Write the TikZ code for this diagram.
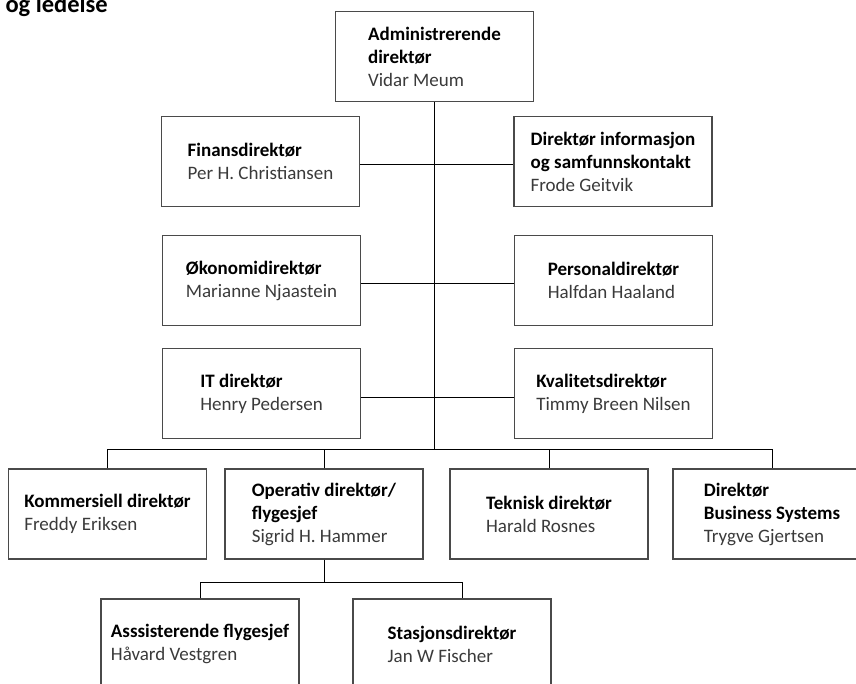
\documentclass[tikz,border=0pt]{standalone}
\usepackage{fontspec}
\setmainfont{Carlito}
\definecolor{boxgray}{HTML}{4A4A4A}
\definecolor{namegray}{HTML}{3A3A3A}
\tikzset{
  orgbox/.style={draw=boxgray, line width=1.2pt, minimum width=198pt, minimum height=90pt,
    align=left, inner sep=0pt, font=\fontsize{19}{23}\selectfont},
  conn/.style={draw=black, line width=1pt},
}
\newcommand{\ttl}[1]{\textbf{#1}}
\newcommand{\nm}[1]{\textcolor{namegray}{#1}}
\begin{document}
\begin{tikzpicture}[x=1pt,y=-1pt]
\useasboundingbox (0,0) rectangle (856,684);
\node[anchor=base west, font=\bfseries\fontsize{24.5}{28}\selectfont] (title) at (2,13) {og ledelse};

\node[orgbox] (top) at (434.5,56.5) {\ttl{Administrerende}\\\ttl{direktør}\\\nm{Vidar Meum}};

\node[orgbox] (fin) at (260.5,161.5) {\ttl{Finansdirektør}\\\nm{Per H. Christiansen}};
\node[orgbox] (info) at (613,161.5) {\ttl{Direktør informasjon}\\\ttl{og samfunnskontakt}\\\nm{Frode Geitvik}};
\node[orgbox] (oko) at (261.5,280.5) {\ttl{Økonomidirektør}\\\nm{Marianne Njaastein}};
\node[orgbox] (pers) at (613.5,280.5) {\ttl{Personaldirektør}\\\nm{Halfdan Haaland}};
\node[orgbox] (it) at (261.5,393.5) {\ttl{IT direktør}\\\nm{Henry Pedersen}};
\node[orgbox] (kval) at (613.5,393.5) {\ttl{Kvalitetsdirektør}\\\nm{Timmy Breen Nilsen}};

\node[orgbox] (kom) at (107.5,514) {\ttl{Kommersiell direktør}\\\nm{Freddy Eriksen}};
\node[orgbox] (op) at (324,514) {\ttl{Operativ direktør/}\\\ttl{flygesjef}\\\nm{Sigrid H. Hammer}};
\node[orgbox] (tek) at (549,514) {\ttl{Teknisk direktør}\\\nm{Harald Rosnes}};
\node[orgbox] (bus) at (772,514) {\ttl{Direktør}\\\ttl{Business Systems}\\\nm{Trygve Gjertsen}};

\node[orgbox] (ass) at (200,644) {\ttl{Asssisterende flygesjef}\\\nm{Håvard Vestgren}};
\node[orgbox] (sta) at (452,644) {\ttl{Stasjonsdirektør}\\\nm{Jan W Fischer}};

\coordinate (hub) at (433,449);
\coordinate (sub) at (0,582);
\coordinate (stadrop) at ([xshift=10pt]sta.north);

\draw[conn] (top.south) -- (top.south |- hub);
\draw[conn] ([yshift=-3pt]fin.east) -- ([yshift=-3pt]info.west);
\draw[conn] ([yshift=-3pt]oko.east) -- ([yshift=-3pt]pers.west);
\draw[conn] ([yshift=-4pt]it.east) -- ([yshift=-4pt]kval.west);
\draw[conn] (kom.north) -- (kom.north |- hub) -- (bus.north |- hub) -- (bus.north);
\draw[conn] (op.north) -- (op.north |- hub);
\draw[conn] (tek.north) -- (tek.north |- hub);
\draw[conn] (op.south) -- (op.south |- sub);
\draw[conn] (ass.north) -- (ass.north |- sub) -- (stadrop |- sub) -- (stadrop);
\end{tikzpicture}
\end{document}
